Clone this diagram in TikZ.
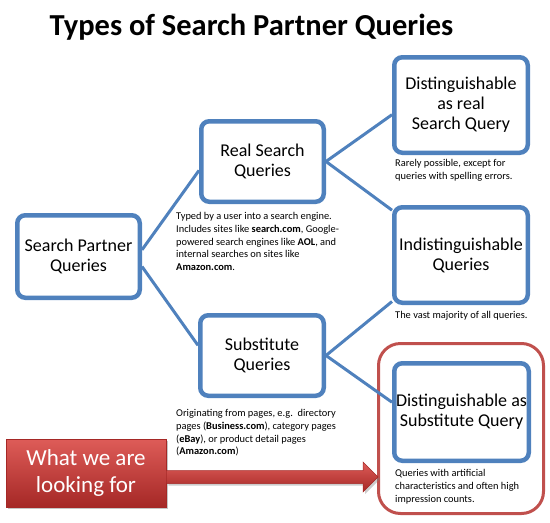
\documentclass[tikz,border=0pt]{standalone}
\usepackage{fontspec}
\setmainfont{Carlito}
\usetikzlibrary{calc,shadows}
\definecolor{qblue}{RGB}{79,129,189}
\definecolor{qred}{RGB}{192,80,77}
\definecolor{qredtop}{RGB}{222,92,88}
\definecolor{qredbot}{RGB}{165,40,38}
\tikzstyle{queryBox}=[shape = rectangle, rounded corners = 8pt, draw = qblue, line width = 4.5pt, fill = white, align = center, inner sep = 0pt, font = \fontsize{18}{20}\selectfont]
\tikzstyle{noteText}=[anchor = north west, align = left, inner sep = 0pt, font = \fontsize{10.4}{12.8}\selectfont]
\tikzstyle{queryEdge}=[draw = qblue, line width = 3pt]

\begin{document}
\begin{tikzpicture}[x = 1pt, y = -1pt]
\useasboundingbox (0,0) rectangle (550,523);
\tikzstyle{pickBox}=[shape = rectangle, rounded corners = 22pt, draw = qred, line width = 3pt, minimum width = 165pt, minimum height = 170pt]
\tikzstyle{lookBox}=[shape = rectangle, top color = qredtop, bottom color = qredbot, draw = qredbot, line width = 0.6pt, minimum width = 160pt, minimum height = 68pt, text = white, align = center, font = \fontsize{23}{27}\selectfont, drop shadow = {shadow xshift = 2pt, shadow yshift = -2pt, opacity = 0.45}]
\node[anchor = base, font = \fontsize{30.5}{36}\selectfont\bfseries] (title) at (251.5,35) {Types of Search Partner Queries};
\node[pickBox] (pick) at (461,428.5) {};
\node[queryBox, minimum width = 122.5pt, minimum height = 82.5pt] (spq) at (78.5,256.5) {Search Partner\\Queries};
\node[queryBox, minimum width = 122.5pt, minimum height = 80.5pt] (real) at (262.5,161.5) {Real Search\\Queries};
\node[queryBox, minimum width = 123.5pt, minimum height = 80.5pt] (sub) at (262,355.5) {Substitute\\Queries};
\node[queryBox, minimum width = 133.5pt, minimum height = 95.5pt] (dreal) at (461,105) {Distinguishable\\as real\\Search Query};
\node[queryBox, minimum width = 133.5pt, minimum height = 95.5pt] (ind) at (461,255) {Indistinguishable\\Queries};
\node[queryBox, minimum width = 134.5pt, minimum height = 97.5pt] (dsub) at (461.5,412) {Distinguishable as\\Substitute Query};
\node[noteText] (realNote) at (176,212) {Typed by a user into a search engine.\\Includes sites like \textbf{search.com}, Google-\\powered search engines like \textbf{AOL}, and\\internal searches on sites like\\\textbf{Amazon.com}.};
\node[noteText] (drealNote) at (395,159) {Rarely possible, except for\\queries with spelling errors.};
\node[noteText] (indNote) at (395,311) {The vast majority of all queries.};
\node[noteText] (subNote) at (176,409) {Originating from pages, e.g.~\ directory\\pages (\textbf{Business.com}), category pages\\(\textbf{eBay}), or product detail pages\\(\textbf{Amazon.com})};
\node[noteText] (dsubNote) at (395,469) {Queries with artificial\\characteristics and often high\\impression counts.};
\node[lookBox] (look) at (86,473) {What we are\\looking for};
\coordinate (tip) at (378,477);
\draw[queryEdge] (spq.6) -- (real.188);
\draw[queryEdge] (spq.-9) -- (sub.171);
\draw[queryEdge] (real.east) -- (dreal.188);
\draw[queryEdge] (real.east) -- (ind.147);
\draw[queryEdge] (sub.east) -- (ind.214);
\draw[queryEdge] (sub.east) -- (dsub.172);
\shade[top color = qredtop, bottom color = qredbot, draw = qredbot, line width = 0.5pt, drop shadow = {shadow xshift = 2pt, shadow yshift = -2pt, opacity = 0.4}]
  ($(look.east |- tip)+(0,-6.5)$) -- ($(tip)+(-15,-6.5)$) -- ($(tip)+(-15,-15)$) -- (tip)
  -- ($(tip)+(-15,15)$) -- ($(tip)+(-15,6.5)$) -- ($(look.east |- tip)+(0,6.5)$) -- cycle;
\end{tikzpicture}
\end{document}
